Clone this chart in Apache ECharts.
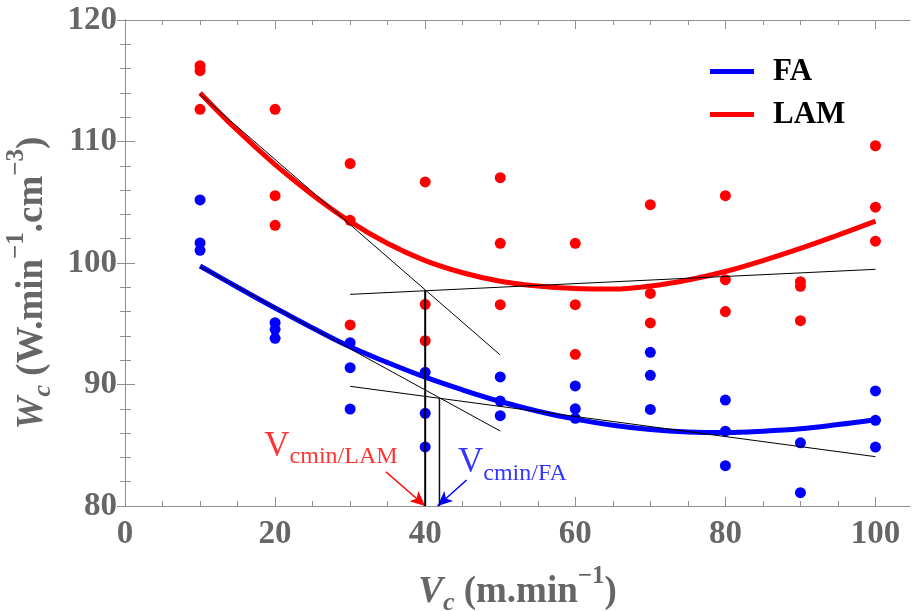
<!DOCTYPE html>
<html><head><meta charset="utf-8">
<script src="https://cdn.jsdelivr.net/npm/echarts@6/dist/echarts.min.js"></script>
<style>html,body{margin:0;padding:0;background:#fff}#c{width:912px;height:611px}</style>
</head><body><div id="c"></div>
<script>
// ---- data ----
const xValues = [10, 20, 30, 40, 50, 60, 70, 80, 90, 100];
const lamMeasured = [
  [116.24, 115.83, 112.65],
  [112.65, 105.54, 103.10],
  [108.18, 103.51, 94.90],
  [106.67, 96.60, 93.60],
  [107.02, 101.62, 96.57],
  [101.62, 96.57, 92.48],
  [104.80, 97.50, 95.07],
  [105.54, 98.63, 96.00],
  [98.46, 98.08, 95.25],
  [109.65, 104.59, 101.80]
];
const faMeasured = [
  [105.19, 101.65, 101.04],
  [95.09, 94.54, 93.80],
  [93.44, 91.38, 87.98],
  [91.00, 87.63, 84.86],
  [90.62, 88.64, 87.43],
  [89.88, 88.00, 87.22],
  [92.65, 90.76, 87.95],
  [88.72, 86.16, 83.32],
  [85.20, 81.10],
  [89.47, 87.05, 84.85]
];
const fitX = [10, 15, 20, 25, 30, 35, 40, 45, 50, 55, 60, 65, 70, 75, 80, 85, 90, 95, 100];
const lamFit = [114.0, 110.9, 108.1, 105.6, 103.4, 101.6, 100.2, 99.2, 98.5, 98.1, 97.9, 97.85, 98.1, 98.6, 99.3, 100.2, 101.2, 102.3, 103.45];
const faFit  = [99.75, 98.0, 96.3, 94.65, 93.1, 91.8, 90.6, 89.55, 88.6, 87.8, 87.15, 86.65, 86.3, 86.1, 86.05, 86.15, 86.35, 86.7, 87.1];
const tangentLamA = [[10, 113.88], [50, 92.43]];
const tangentLamB = [[30, 97.42], [100, 99.48]];
const tangentFaA  = [[10, 99.70], [50, 86.17]];
const tangentFaB  = [[30, 89.85], [100, 84.06]];
const dropLam = [[40, 97.76], [40, 80]];
const dropFa  = [[41.9, 88.84], [41.9, 80]];
const arrowLam = [[34.76, 82.82], [40, 80]];
const arrowFa  = [[45.52, 82.14], [41.65, 80]];
const labelLam = [18.5, 84.9];
const labelFa  = [44.3, 83.55];
const xMajorTicks = [0, 20, 40, 60, 80, 100];
const xMinorTicks = [5, 10, 15, 25, 30, 35, 45, 50, 55, 65, 70, 75, 85, 90, 95];
const legendNames = ['FA', 'LAM'];

// ---- build ----
const SERIF = 'Liberation Serif';
const GRAY = '#666666';
const FRAME = '#8f8f8f';
const BLUE = '#0000ff', RED = '#ff0000';

function pts(m) {
  const out = [];
  m.forEach((col, i) => col.forEach(v => out.push([xValues[i], v])));
  return out;
}
const zip = (xs, ys) => xs.map((x, i) => [x, ys[i]]);

const xCommon = { type: 'value', min: 0, max: 104.6, interval: 20, splitLine: { show: false } };
const yCommon = { type: 'value', min: 80, max: 120, interval: 10, splitLine: { show: false } };

function blackLine(data, width, color) {
  return { type: 'line', data, showSymbol: false, symbol: 'none', silent: true, z: 5,
    lineStyle: { color: color || '#000', width: width || 1 } };
}
const titleRich = {
  i: { fontSize: 37, fontStyle: 'italic', fontWeight: 'bold', color: GRAY, fontFamily: SERIF },
  sub: { fontSize: 26, fontStyle: 'italic', fontWeight: 'bold', color: GRAY, fontFamily: SERIF, padding: [22, 0, 0, 0] },
  b: { fontSize: 37, fontWeight: 'bold', color: GRAY, fontFamily: SERIF },
  sup: { fontSize: 25, fontWeight: 'bold', color: GRAY, fontFamily: SERIF, padding: [0, 0, 32, 0] }
};

const option = {
  animation: false,
  backgroundColor: '#fff',
  grid: { left: 125, right: 2, top: 20, bottom: 105, containLabel: false, outerBoundsMode: 'none' },
  legend: {
    data: legendNames, orient: 'vertical', left: 705, top: 51, itemGap: 12,
    icon: 'rect', itemWidth: 44, itemHeight: 5, selectedMode: false,
    textStyle: { fontFamily: SERIF, fontWeight: 'bold', fontSize: 31, color: '#000', lineHeight: 30, padding: [0, 0, 0, 14] }
  },
  xAxis: [
    Object.assign({}, xCommon, {
      position: 'bottom',
      axisLine: { lineStyle: { color: FRAME, width: 1 } },
      axisTick: { inside: true, length: 9, customValues: xMajorTicks, lineStyle: { color: FRAME } },
      axisLabel: { customValues: xMajorTicks, margin: 12, fontFamily: SERIF, fontWeight: 'bold', fontSize: 33, color: GRAY },
      name: '{i|V}{sub|c}{b| (m.min}{sup|−1}{b|)}',
      nameLocation: 'middle', nameGap: 58,
      nameTextStyle: { color: GRAY, fontFamily: SERIF, rich: titleRich }
    }),
    Object.assign({}, xCommon, {
      position: 'bottom', axisLine: { show: false },
      axisTick: { inside: true, length: 5, customValues: xMinorTicks, lineStyle: { color: FRAME } },
      axisLabel: { show: false }
    }),
    Object.assign({}, xCommon, {
      position: 'top',
      axisLine: { lineStyle: { color: FRAME, width: 1 } },
      axisTick: { inside: true, length: 9, customValues: xMajorTicks, lineStyle: { color: FRAME } },
      axisLabel: { show: false }
    }),
    Object.assign({}, xCommon, {
      position: 'top', axisLine: { show: false },
      axisTick: { inside: true, length: 5, customValues: xMinorTicks, lineStyle: { color: FRAME } },
      axisLabel: { show: false }
    })
  ],
  yAxis: [
    Object.assign({}, yCommon, {
      position: 'left',
      axisLine: { lineStyle: { color: FRAME, width: 1 } },
      axisTick: { inside: true, length: 10, lineStyle: { color: FRAME } },
      minorTick: { show: true, splitNumber: 5, length: 6, lineStyle: { color: FRAME } },
      axisLabel: { margin: 8, fontFamily: SERIF, fontWeight: 'bold', fontSize: 33, color: GRAY },
      name: '{i|W}{sub|c}{b| (W.min}{sup|−1}{b|.cm}{sup|−3}{b|)}',
      nameLocation: 'middle', nameGap: 55, nameRotate: 90,
      nameTextStyle: { color: GRAY, fontFamily: SERIF, rich: titleRich, padding: [0, 40, 0, 0] }
    }),
    Object.assign({}, yCommon, {
      position: 'right',
      axisLine: { lineStyle: { color: FRAME, width: 1 } },
      axisTick: { inside: true, length: 8, lineStyle: { color: FRAME } },
      minorTick: { show: true, splitNumber: 5, length: 5, lineStyle: { color: FRAME } },
      axisLabel: { show: false }
    })
  ],
  series: [
    { name: 'FA', type: 'line', data: zip(fitX, faFit), smooth: 0.4, showSymbol: false, symbol: 'none', z: 2,
      lineStyle: { color: BLUE, width: 5 }, itemStyle: { color: BLUE } },
    { name: 'LAM', type: 'line', data: zip(fitX, lamFit), smooth: 0.4, showSymbol: false, symbol: 'none', z: 2,
      lineStyle: { color: RED, width: 5 }, itemStyle: { color: RED } },
    { name: 'FA measured', type: 'scatter', data: pts(faMeasured), symbolSize: 11, z: 3, itemStyle: { color: BLUE, opacity: 1 } },
    { name: 'LAM measured', type: 'scatter', data: pts(lamMeasured), symbolSize: 11, z: 3, itemStyle: { color: RED, opacity: 1 } },
    blackLine(tangentLamA, 1),
    blackLine(tangentLamB, 1),
    blackLine(tangentFaA, 1),
    blackLine(tangentFaB, 1),
    blackLine(dropLam, 2),
    blackLine(dropFa, 1.5, '#111'),
    { type: 'line', data: [], silent: true, z: 6,
      markLine: { silent: true, animation: false, symbol: ['none', 'arrow'], symbolSize: [10, 15], label: { show: false },
        data: [
          [{ coord: arrowLam[0], lineStyle: { color: RED, width: 1.5, type: 'solid' } }, { coord: arrowLam[1] }],
          [{ coord: arrowFa[0], lineStyle: { color: BLUE, width: 1.5, type: 'solid' } }, { coord: arrowFa[1] }]
        ] } },
    { type: 'scatter', silent: true, z: 7, symbolSize: 1, itemStyle: { color: 'rgba(0,0,0,0)' },
      data: [
        { value: labelLam, label: { formatter: '{v|V}{s|cmin/LAM}', color: RED,
          rich: { v: { fontSize: 35, fontFamily: SERIF, color: RED }, s: { fontSize: 24, fontFamily: SERIF, color: RED, padding: [21, 0, 0, 0] } } } },
        { value: labelFa, label: { formatter: '{v|V}{s|cmin/FA}', color: BLUE,
          rich: { v: { fontSize: 35, fontFamily: SERIF, color: BLUE }, s: { fontSize: 24, fontFamily: SERIF, color: BLUE, padding: [21, 0, 0, 0] } } } }
      ],
      label: { show: true, position: 'right', distance: 0 } }
  ]
};
const chart = echarts.init(document.getElementById('c'), null, { renderer: 'canvas' });
chart.setOption(option);
</script></body></html>
